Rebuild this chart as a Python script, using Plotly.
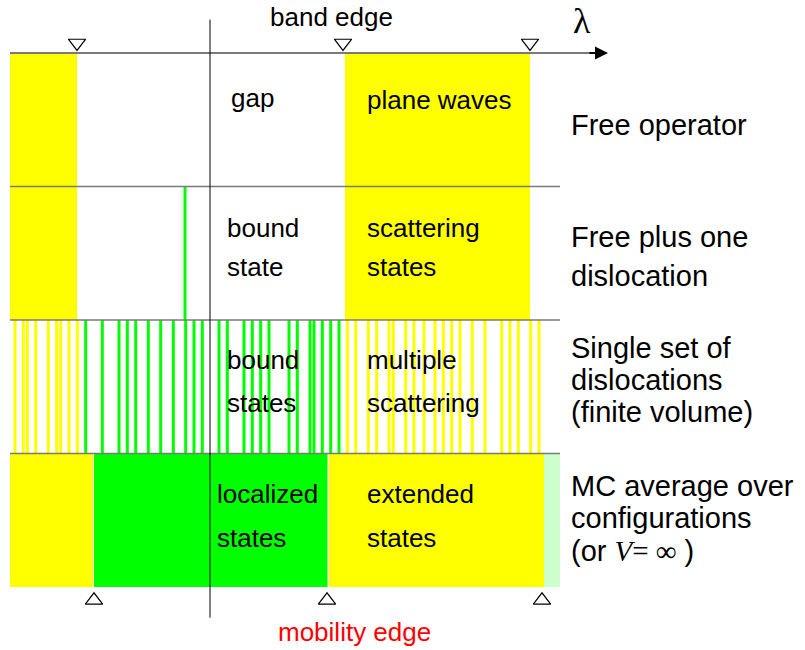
import plotly.graph_objects as go

# ---------------- data ----------------
# horizontal axis: spectral parameter lambda (arbitrary units)
# vertical axis: row index (each row spans [i, i+1])
row_labels = [
    ["Free operator"],
    ["Free plus one", "dislocation"],
    ["Single set of", "dislocations", "(finite volume)"],
    ["MC average over", "configurations",
     "(or <span style='font-family:Liberation Serif'><i>V</i>= \u221e</span> )"],
]
row_label_y = [[0.54], [1.38, 1.67], [2.21, 2.45, 2.69], [3.24, 3.48, 3.73]]

band_edges = [77, 343, 530]          # down triangles
mobility_edges = [94, 327, 542]      # up triangles
spectrum_start = 10
spectrum_end = 560

free_yellow_bands = [(10, 77), (345, 530)]        # rows 0 and 1
one_bound_state = [185]                            # row 1, green line

row3_yellow_lines = [15, 23.3, 27.3, 35.7, 48.3, 56.7, 60.7, 69, 77.3,
                     347.3, 355.7, 368.3, 376.7, 389, 393.3, 405.7, 414,
                     424, 435, 443.3, 451.7, 460, 472.3, 485, 501.7, 510,
                     518.3, 530.7, 539]
row3_green_lines = [85.7, 102.3, 119, 127.3, 135.7, 148.3, 160.7, 173.3,
                    185.7, 194, 202.3, 219, 227.3, 244, 252.3, 260.7, 269,
                    289, 297.3, 310, 314, 322.3, 330.7, 339]

row4_segments = [(10, 93, "#ffff00"), (94, 327.5, "#00ff00"),
                 (329, 544, "#ffff00"), (544, 560, "#ccffcc")]

inner_texts = [  # (x, y, text)
    (229, 0.34, "gap"), (365, 0.35, "plane waves"),
    (225, 1.31, "bound"), (225, 1.60, "state"),
    (365, 1.31, "scattering"), (365, 1.60, "states"),
    (225, 2.30, "bound"), (225, 2.62, "states"),
    (365, 2.30, "multiple"), (365, 2.62, "scattering"),
    (215, 3.30, "localized"), (215, 3.63, "states"),
    (365, 3.30, "extended"), (365, 3.63, "states"),
]
row_label_x = 569

YELLOW = "#ffff00"
GREEN = "#00ff00"
SEP = "#7a7a7a"

fig = go.Figure()
shapes = []

for r in (0, 1):
    for x0, x1 in free_yellow_bands:
        shapes.append(dict(type="rect", xref="x", yref="y", x0=x0, x1=x1,
                           y0=r, y1=r + 1, fillcolor=YELLOW, line_width=0,
                           layer="below"))
for xb in one_bound_state:
    shapes.append(dict(type="line", xref="x", yref="y", x0=xb, x1=xb,
                       y0=1, y1=2, line=dict(color=GREEN, width=3),
                       layer="below"))
for xl in row3_yellow_lines:
    shapes.append(dict(type="line", xref="x", yref="y", x0=xl, x1=xl,
                       y0=2, y1=3, line=dict(color=YELLOW, width=3),
                       layer="below"))
for xl in row3_green_lines:
    shapes.append(dict(type="line", xref="x", yref="y", x0=xl, x1=xl,
                       y0=2, y1=3, line=dict(color=GREEN, width=3),
                       layer="below"))
for x0, x1, c in row4_segments:
    shapes.append(dict(type="rect", xref="x", yref="y", x0=x0, x1=x1,
                       y0=3, y1=4, fillcolor=c, line_width=0, layer="below"))
for r in (1, 2, 3):
    shapes.append(dict(type="line", xref="x", yref="y", x0=spectrum_start,
                       x1=spectrum_end, y0=r, y1=r,
                       line=dict(color=SEP, width=1.5)))
shapes.append(dict(type="line", xref="x", yref="y", x0=spectrum_start,
                   x1=596, y0=0, y1=0, line=dict(color=SEP, width=2)))
shapes.append(dict(type="line", xref="x", yref="y", x0=210, x1=210,
                   y0=-0.25, y1=4.23, line=dict(color="black", width=1)))

fig.add_trace(go.Scatter(x=band_edges, y=[-0.075] * len(band_edges),
                         mode="markers", hoverinfo="skip",
                         marker=dict(symbol="triangle-down-open", size=15,
                                     color="black", line=dict(width=1.2))))
fig.add_trace(go.Scatter(x=mobility_edges, y=[4.1] * len(mobility_edges),
                         mode="markers", hoverinfo="skip",
                         marker=dict(symbol="triangle-up-open", size=15,
                                     color="black", line=dict(width=1.2))))

annotations = []
annotations.append(dict(x=608, y=0, ax=588, ay=0, xref="x", yref="y",
                        axref="x", ayref="y", text="", showarrow=True,
                        arrowhead=2, arrowsize=1.3, arrowwidth=2,
                        arrowcolor="black"))
annotations.append(dict(x=582, y=-0.24, xref="x", yref="y", text="\u03bb",
                        showarrow=False,
                        font=dict(family="Liberation Serif", size=36,
                                  color="black")))
annotations.append(dict(x=331, y=-0.27, xref="x", yref="y", text="band edge",
                        showarrow=False,
                        font=dict(family="Liberation Sans", size=26,
                                  color="black")))
annotations.append(dict(x=354, y=4.335, xref="x", yref="y",
                        text="mobility edge", showarrow=False,
                        font=dict(family="Liberation Sans", size=26,
                                  color="#ff0000")))
for x, y, t in inner_texts:
    annotations.append(dict(x=x, y=y, xref="x", yref="y", text=t,
                            showarrow=False, xanchor="left", yanchor="middle",
                            font=dict(family="Liberation Sans", size=26,
                                      color="black")))
for lines, ys in zip(row_labels, row_label_y):
    for t, y in zip(lines, ys):
        annotations.append(dict(x=row_label_x, y=y, xref="x", yref="y",
                                text=t, showarrow=False, xanchor="left",
                                yanchor="middle",
                                font=dict(family="Liberation Sans", size=29,
                                          color="black")))

fig.update_layout(
    width=805, height=650,
    margin=dict(l=0, r=0, t=0, b=0),
    paper_bgcolor="white", plot_bgcolor="white",
    showlegend=False,
    shapes=shapes, annotations=annotations,
    xaxis=dict(range=[0, 805], visible=False, fixedrange=True),
    yaxis=dict(range=[(650 - 53) / 133.5, (0 - 53) / 133.5], visible=False,
               fixedrange=True),
)

# remove the default page margin so the figure fills the window exactly
fig.write_html("out.html",
               config={"displayModeBar": False},
               post_script="document.body.style.margin='0px';")
